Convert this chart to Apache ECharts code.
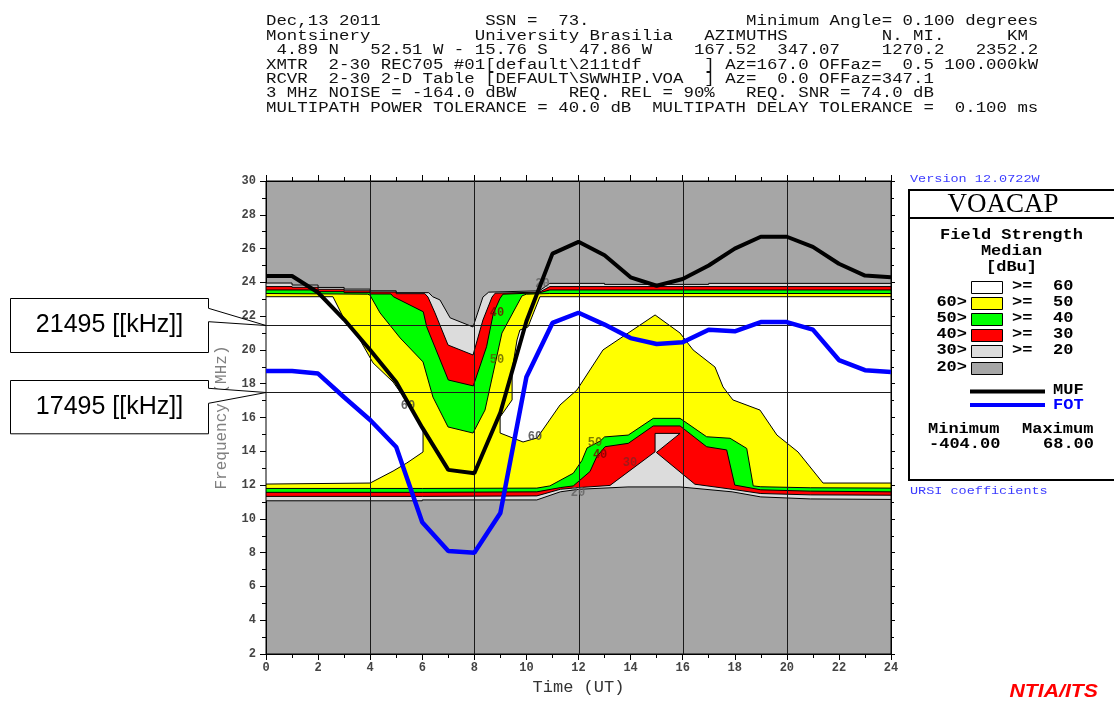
<!DOCTYPE html>
<html>
<head>
<meta charset="utf-8">
<script src="https://cdn.jsdelivr.net/npm/echarts@6/dist/echarts.min.js"></script>
<style>
html,body{margin:0;padding:0;background:#ffffff;}
#chart{width:1114px;height:702px;}
</style>
</head>
<body>
<div id="chart"></div>
<script>
// ---------------- data ----------------
const hours  = [0,1,2,3,4,5,6,7,8,9,10,11,12,13,14,15,16,17,18,19,20,21,22,23,24];
const mufMHz = [24.38,24.38,23.4,21.8,20.0,18.1,15.4,12.9,12.7,16.3,21.7,25.7,26.4,25.6,24.3,23.8,24.2,25.0,26.0,26.7,26.7,26.1,25.1,24.4,24.3];
const fotMHz = [18.75,18.75,18.6,17.2,15.85,14.25,9.8,8.1,8.0,10.35,18.4,21.6,22.2,21.5,20.7,20.35,20.45,21.2,21.1,21.65,21.65,21.2,19.4,18.8,18.7];

// contour region boundaries, [hour, MHz]
const ge20Top = [[0,23.96],[1,23.96],[1,23.84],[2,23.84],[2,23.7],[3,23.7],[3,23.6],[4,23.6],[4,23.5],[5,23.5],[5,23.39],[6.25,23.39],[6.4,23.15],[6.68,22.96],[7.07,21.9],[7.95,21.36],[8.33,23.13],[8.55,23.42],[10.5,23.5],[10.9,23.94],[13,23.94],[13,23.88],[17,23.88],[17,23.94],[24,23.94]];
const ge20Bottom = [[0,11.07],[6,11.07],[6,11.12],[10.4,11.12],[11.3,11.6],[12,11.75],[13.9,11.89],[15.9,11.89],[17.9,11.6],[19,11.3],[20.9,11.18],[24,11.15]];
const ge30Top = [[0,23.75],[1,23.75],[1,23.71],[2,23.71],[2,23.59],[3,23.59],[3,23.5],[4,23.5],[4,23.43],[5,23.43],[5,23.33],[6.1,23.33],[6.22,23.13],[6.49,22.19],[6.99,20.29],[7.95,19.7],[8.33,21.77],[8.68,23.13],[8.8,23.36],[10.5,23.42],[10.9,23.75],[24,23.75]];
const ge30Bottom = [[0,11.33],[6,11.33],[10.4,11.36],[11.3,11.75],[12,11.85],[13.21,11.98],[14.94,13.97],[14.94,15.06],[15.9,15.06],[14.99,13.93],[16.47,12.05],[17.9,11.75],[19,11.5],[20.9,11.42],[24,11.4]];
const ge40Top = [[0,23.55],[2,23.55],[2,23.45],[3,23.45],[3,23.39],[4,23.39],[4,23.31],[4.8,23.31],[4.89,23.15],[6.04,22.26],[6.17,21.37],[7.0,18.22],[7.96,17.87],[8.47,20.19],[8.73,22.17],[8.99,23.06],[9.1,23.3],[10.5,23.38],[10.9,23.55],[24,23.55]];
const ge40Bottom = [[0,11.57],[6,11.57],[10.4,11.6],[11.3,11.85],[11.8,11.95],[12.44,12.8],[12.7,13.68],[13.02,14.27],[13.91,14.47],[14.87,15.5],[15.9,15.5],[16.92,14.27],[17.69,14.08],[18.0,12.0],[19,11.72],[20.9,11.64],[24,11.6]];
const ge50Top = [[0,23.34],[3.9,23.3],[3.99,23.25],[4.38,22.19],[5.15,20.71],[6.03,19.29],[6.41,17.21],[6.99,15.44],[7.95,15.08],[8.41,16.44],[9.06,21.0],[9.83,23.2],[10,23.3],[10.9,23.34],[24,23.34]];
const ge50Bottom = [[0,11.8],[6,11.8],[10.4,11.82],[10.9,11.95],[11.8,12.7],[12.13,13.45],[12.33,14.2],[12.83,14.6],[13.0,14.85],[13.91,14.96],[14.87,15.95],[15.9,15.95],[16.92,14.86],[17.82,14.77],[18.46,14.17],[18.71,11.95],[19,11.9],[20.9,11.84],[24,11.82]];
const ge60Left = [[0,23.15],[2.57,23.15],[2.96,21.95],[3.61,20.59],[4.11,19.23],[4.88,18.1],[5.45,16.86],[6.03,15.26],[6.03,13.96],[5.41,13.31],[4.88,12.83],[4.0,12.12],[0,12.06]];
const ge60Right = [[10.52,23.15],[10.06,21.36],[9.75,21.18],[9.64,20.59],[9.45,18.81],[9.45,17.04],[8.99,16.03],[8.99,15.08],[9.87,14.55],[10.41,14.79],[11.29,16.74],[11.94,17.63],[12.94,20.0],[14.94,22.07],[15.9,21.0],[16.4,20.0],[17.24,18.99],[17.55,17.81],[17.93,17.04],[18.97,16.44],[19.62,14.96],[20.43,13.96],[21.39,12.12],[24,12.12],[24,23.15]];

const vGridHours = [4,8,12,16,20];
const markerKHz  = [21495, 17495];

const labelHours = [5.45, 10.33, 8.87, 8.87, 12.63, 12.83, 13.98, 11.98, 10.62];
const labelMHz   = [16.7, 14.85, 22.19, 19.4, 14.49, 13.78, 13.31, 11.53, 23.9];
const labelText  = ['60','60','40','50','50','40','30','20','20'];

const legendLevels = ['60','50','40','30','20'];

// ---------------- style ----------------
const C_GRAY = '#a6a6a6', C_LGRAY = '#dcdcdc', C_RED = '#ff0000', C_GREEN = '#00ff00', C_YEL = '#ffff00', C_WHITE = '#ffffff';
const labelColor = {'60':'#404040','50':'#5a5a00','40':'#7a0000','30':'#8a2020','20':'#606060'};
const MONO = '"Liberation Mono", "DejaVu Sans Mono", monospace';

const chart = echarts.init(document.getElementById('chart'), null, {renderer:'canvas'});

function ring(top, bottom){ return top.concat(bottom.slice().reverse()); }

function regionSeries(rings, fill, z){
  return {
    type:'custom', coordinateSystem:'cartesian2d', silent:true, z:z, clip:true,
    data:[[12,16]],
    renderItem:function(params, api){
      return {type:'group', children: rings.map(function(r){
        return {type:'polygon', shape:{points:r.map(function(p){return api.coord(p);})},
                style:{fill:fill, stroke:'#000', lineWidth:1}};
      })};
    }
  };
}

const axisCommon = {
  type:'value',
  axisLine:{show:true, onZero:false, lineStyle:{color:'#000', width:1}},
  axisTick:{show:true, length:6, lineStyle:{color:'#000'}},
  minorTick:{show:true, splitNumber:2, length:4, lineStyle:{color:'#000'}},
  splitLine:{show:false}, minorSplitLine:{show:false}
};

const option = {
  animation:false,
  backgroundColor:'#ffffff',
  grid:{left:266, right:223, top:181, bottom:48, show:true, backgroundColor:C_GRAY, borderColor:'#000', borderWidth:1},
  xAxis:[
    Object.assign({}, axisCommon, {min:0, max:24, interval:2, position:'bottom',
      axisLabel:{fontFamily:MONO, fontWeight:'bold', fontSize:12, color:'#444', margin:8},
      name:'Time (UT)', nameLocation:'middle', nameGap:20,
      nameTextStyle:{fontFamily:MONO, fontSize:17, color:'#333'}}),
    Object.assign({}, axisCommon, {min:0, max:24, interval:2, position:'top', axisLabel:{show:false}})
  ],
  yAxis:[
    Object.assign({}, axisCommon, {min:2, max:30, interval:2, position:'left',
      axisLabel:{fontFamily:MONO, fontWeight:'bold', fontSize:12, color:'#444', margin:10},
      name:'Frequency (MHz)', nameLocation:'middle', nameGap:36, nameRotate:90,
      nameTextStyle:{fontFamily:MONO, fontSize:16, color:'#808080'}}),
    Object.assign({}, axisCommon, {min:2, max:30, interval:2, position:'right', axisLabel:{show:false},
      axisTick:{show:true, length:4, lineStyle:{color:'#000'}}, minorTick:{show:true, splitNumber:2, length:3, lineStyle:{color:'#000'}}})
  ],
  series:[
    regionSeries([ring(ge20Top, ge20Bottom)], C_LGRAY, 1),
    regionSeries([ring(ge30Top, ge30Bottom)], C_RED, 2),
    regionSeries([ring(ge40Top, ge40Bottom)], C_GREEN, 3),
    regionSeries([ring(ge50Top, ge50Bottom)], C_YEL, 4),
    regionSeries([ge60Left, ge60Right], C_WHITE, 5),
    { // vertical grid lines
      type:'custom', silent:true, z:7, clip:true,
      data: vGridHours.map(function(h){return [h,16];}),
      renderItem:function(params, api){
        const a = api.coord([api.value(0), 2]), b = api.coord([api.value(0), 30]);
        const x = Math.round(a[0]) + 0.5;
        return {type:'line', shape:{x1:x, y1:a[1], x2:x, y2:b[1]}, style:{stroke:'#1a1a1a', lineWidth:1}};
      }
    },
    { // marker frequency lines
      type:'custom', silent:true, z:7, clip:true,
      data: markerKHz.map(function(k){return [12, k/1000];}),
      renderItem:function(params, api){
        const a = api.coord([0, api.value(1)]), b = api.coord([24, api.value(1)]);
        const y = Math.round(a[1]) + 0.5;
        return {type:'line', shape:{x1:a[0], y1:y, x2:b[0], y2:y}, style:{stroke:'#1a1a1a', lineWidth:1}};
      }
    },
    {
      type:'scatter', silent:true, z:8, symbolSize:0,
      data: labelText.map(function(t,i){return {value:[labelHours[i], labelMHz[i]], name:t};}),
      label:{show:true, position:'inside', fontFamily:MONO, fontSize:12, fontWeight:'bold',
        formatter:function(p){return p.name;}, color:'#444'},
      labelLayout:{hideOverlap:false}
    },
    {
      type:'line', name:'MUF', silent:true, z:20, symbol:'none',
      data: hours.map(function(h,i){return [h, mufMHz[i]];}),
      lineStyle:{color:'#000000', width:4}
    },
    {
      type:'line', name:'FOT', silent:true, z:21, symbol:'none',
      data: hours.map(function(h,i){return [h, fotMHz[i]];}),
      lineStyle:{color:'#0000ff', width:4.5}
    }
  ]
};
option.series[7].data.forEach(function(d){ d.label = {color: labelColor[d.name]}; });

chart.setOption(option);

// ---------------- annotations (text / legend / callouts) ----------------
function T(x, y, text, o){
  o = o || {};
  return {type:'text', x:x, y:y, z:100, scaleY:(o.sy === undefined ? 0.85 : o.sy), scaleX:(o.sx === undefined ? 1 : o.sx), silent:true,
    style:{text:text, font:o.font || ('17.4px ' + MONO), fill:o.fill || '#000', align:o.align || 'left', verticalAlign:'middle'}};
}

const headerLines = [
  'Dec,13 2011          SSN =  73.               Minimum Angle= 0.100 degrees',
  'Montsinery          University Brasilia   AZIMUTHS         N. MI.      KM',
  ' 4.89 N   52.51 W - 15.76 S   47.86 W    167.52  347.07    1270.2   2352.2',
  'XMTR  2-30 REC705 #01[default\\211tdf      ] Az=167.0 OFFaz=  0.5 100.000kW',
  'RCVR  2-30 2-D Table [DEFAULT\\SWWHIP.VOA  ] Az=  0.0 OFFaz=347.1',
  '3 MHz NOISE = -164.0 dBW     REQ. REL = 90%   REQ. SNR = 74.0 dB',
  'MULTIPATH POWER TOLERANCE = 40.0 dB  MULTIPATH DELAY TOLERANCE =  0.100 ms'
];

const g = [];
headerLines.forEach(function(l, i){ g.push(T(266, 21.3 + i*14.45, l, {fill:'#111'})); });

// legend panel
g.push({type:'rect', z:90, silent:true, shape:{x:909, y:190, width:230, height:290}, style:{fill:'#fff', stroke:'#000', lineWidth:2}});
g.push({type:'line', z:91, silent:true, shape:{x1:909, y1:218, x2:1114, y2:218}, style:{stroke:'#000', lineWidth:2}});
g.push(T(1003, 205, 'VOACAP', {font:'27px "Liberation Serif", serif', align:'center', sy:1}));
const BOLD = 'bold 17px ' + MONO;
g.push(T(1011.5, 235, 'Field Strength', {font:BOLD, align:'center'}));
g.push(T(1011.5, 251, 'Median', {font:BOLD, align:'center'}));
g.push(T(1011.5, 267, '[dBu]', {font:BOLD, align:'center'}));
const rowY = [286.7, 302.7, 318.7, 334.7, 350.7, 367.7];
const swatch = [C_WHITE, C_YEL, C_GREEN, C_RED, C_LGRAY, C_GRAY];
rowY.forEach(function(y, i){
  g.push({type:'rect', z:92, silent:true, shape:{x:971.5, y:Math.round(y-6)+0.5, width:31, height:12}, style:{fill:swatch[i], stroke:'#000', lineWidth:1}});
  if (i > 0) g.push(T(967, y, legendLevels[i-1] + '>', {font:BOLD, align:'right'}));
  if (i < 5) {
    g.push(T(1012, y, '>=', {font:BOLD}));
    g.push(T(1053, y, legendLevels[i], {font:BOLD}));
  }
});
g.push({type:'line', z:92, silent:true, shape:{x1:970, y1:391.5, x2:1045, y2:391.5}, style:{stroke:'#000', lineWidth:4}});
g.push({type:'line', z:92, silent:true, shape:{x1:970, y1:405, x2:1045, y2:405}, style:{stroke:'#0000ff', lineWidth:4}});
g.push(T(1053, 390, 'MUF', {font:BOLD}));
g.push(T(1053, 405, 'FOT', {font:BOLD, fill:'#0000ff'}));
g.push(T(928, 429, 'Minimum', {font:BOLD}));
g.push(T(1022, 429, 'Maximum', {font:BOLD}));
g.push(T(929, 444, '-404.00', {font:BOLD}));
g.push(T(1043, 444, '68.00', {font:BOLD}));
g.push(T(910, 179, 'Version 12.0722W', {font:'13.5px ' + MONO, fill:'#3c3cff'}));
g.push(T(910, 491, 'URSI coefficients', {font:'13.5px ' + MONO, fill:'#3c3cff'}));
g.push(T(1098, 692, 'NTIA/ITS', {font:'italic bold 18px "Liberation Sans", sans-serif', fill:'#ff0000', align:'right', sy:1, sx:1.18}));

// callout boxes pointing at the marker frequencies
const boxes = [{top:298, bottom:352, a:308.3, b:321.7}, {top:380, bottom:433.3, a:388.3, b:403.3}];
markerKHz.forEach(function(k, i){
  const tip = chart.convertToPixel({gridIndex:0}, [0, k/1000]);
  const bx = boxes[i];
  g.push({type:'polygon', z:95, silent:true,
    shape:{points:[[10.5,bx.top+0.5],[208.5,bx.top+0.5],[208.5,bx.a],[tip[0],Math.round(tip[1])+0.5],[208.5,bx.b],[208.5,bx.bottom+0.5],[10.5,bx.bottom+0.5]]},
    style:{fill:'#fff', stroke:'#000', lineWidth:1}});
  g.push(T(109.5, (bx.top+bx.bottom)/2 + 0.5, k + ' [[kHz]]', {font:'25px "Liberation Sans", Arial, sans-serif', align:'center', sy:1}));
});

chart.setOption({graphic:g});
</script>
</body>
</html>
